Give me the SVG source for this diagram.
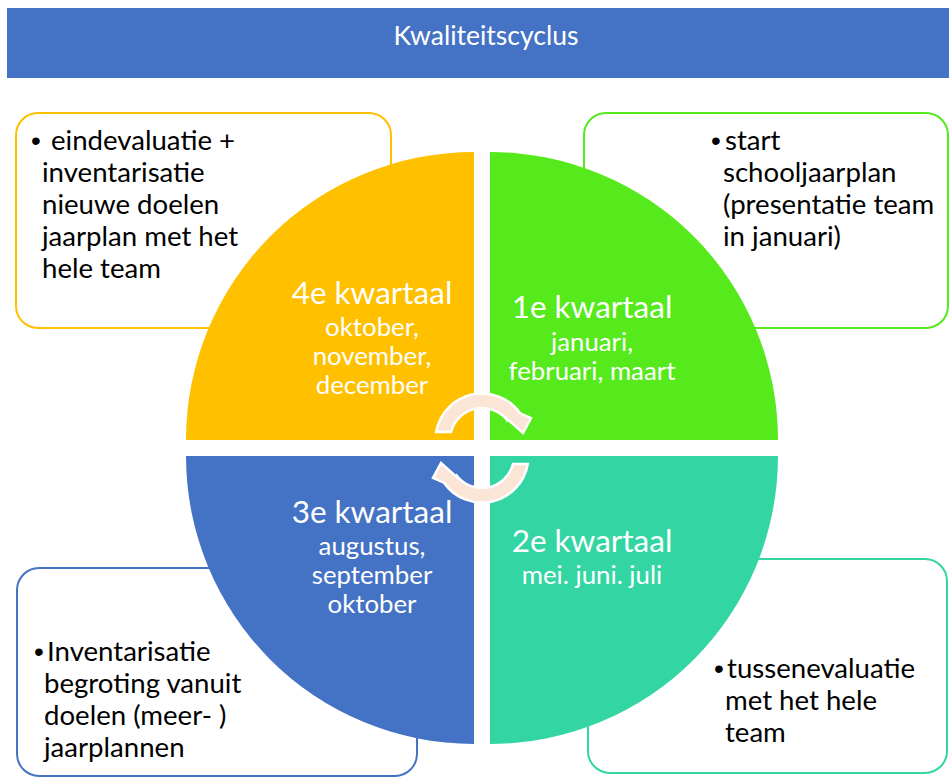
<svg xmlns="http://www.w3.org/2000/svg" width="949" height="779" viewBox="0 0 949 779">
  <style>
    .box { fill: #ffffff; stroke-width: 2; }
    .note { font-family: Lato, "Open Sans", "Liberation Sans", sans-serif; font-size: 27.6px; fill: #000000; }
    .dot { font-family: "Liberation Sans", Arial, sans-serif; font-size: 28px; fill: #000000; }
    .qhead { font-family: Lato, "Open Sans", "Liberation Sans", sans-serif; font-size: 31.5px; fill: #ffffff; text-anchor: middle; }
    .qsub { font-family: Lato, "Open Sans", "Liberation Sans", sans-serif; font-size: 25.8px; fill: #ffffff; text-anchor: middle; }
    .title { font-family: Lato, "Open Sans", "Liberation Sans", sans-serif; font-size: 26.5px; fill: #ffffff; text-anchor: middle; }
    .cycle { fill: #FBE5D6; stroke: #ffffff; stroke-width: 2.5; stroke-linejoin: miter; }
  </style>
  <defs>
    <!-- curved arrow over the top of the centre, pointing clockwise -->
    <path id="curl" d="M436.2,432 A46.5,46.5 0 0 1 520.1,413.3 L531,418 L523,433 L504,416 L508.2,421.6 A32,32 0 0 0 451,432 Z"/>
  </defs>

  <rect width="949" height="779" fill="#ffffff"/>

  <!-- header bar -->
  <g id="header">
    <rect x="7" y="8" width="942" height="70" fill="#4472C4"/>
    <text class="title" x="486" y="45">Kwaliteitscyclus</text>
  </g>

  <!-- note boxes (sit behind the pie) -->
  <g id="note-q4">
    <rect class="box" x="16" y="113" width="375" height="215" rx="22" stroke="#FFC000"/>
    <text class="dot" x="31" y="150">•</text>
    <text class="note">
      <tspan x="51" y="150">eindevaluatie +</tspan>
      <tspan x="42" y="182">inventarisatie</tspan>
      <tspan x="42" y="214">nieuwe doelen</tspan>
      <tspan x="42" y="246">jaarplan met het</tspan>
      <tspan x="42" y="278">hele team</tspan>
    </text>
  </g>
  <g id="note-q1">
    <rect class="box" x="584" y="113" width="364" height="215" rx="22" stroke="#56E91C"/>
    <text class="dot" x="711" y="150">•</text>
    <text class="note">
      <tspan x="725" y="150">start</tspan>
      <tspan x="723" y="182">schooljaarplan</tspan>
      <tspan x="723" y="214">(presentatie team</tspan>
      <tspan x="723" y="246">in januari)</tspan>
    </text>
  </g>
  <g id="note-q3">
    <rect class="box" x="17" y="568" width="400" height="208" rx="22" stroke="#4472C4"/>
    <text class="dot" x="34" y="661">•</text>
    <text class="note">
      <tspan x="47" y="661">Inventarisatie</tspan>
      <tspan x="44" y="693">begroting vanuit</tspan>
      <tspan x="44" y="725">doelen (meer- )</tspan>
      <tspan x="44" y="757">jaarplannen</tspan>
    </text>
  </g>
  <g id="note-q2">
    <rect class="box" x="588" y="559" width="359" height="214" rx="22" stroke="#33D6A3"/>
    <text class="dot" x="714" y="678">•</text>
    <text class="note">
      <tspan x="727" y="678">tussenevaluatie</tspan>
      <tspan x="725" y="710">met het hele</tspan>
      <tspan x="725" y="742">team</tspan>
    </text>
  </g>

  <!-- four quarter segments of the cycle -->
  <g id="quarter-4">
    <path d="M474,440 L186,440 A288,288 0 0 1 474,152 Z" fill="#FFC000"/>
    <text class="qhead" x="372" y="304">4e kwartaal</text>
    <text class="qsub" x="372" y="336">oktober,</text>
    <text class="qsub" x="372" y="365">november,</text>
    <text class="qsub" x="372" y="394">december</text>
  </g>
  <g id="quarter-1">
    <path d="M490,440 L490,152 A288,288 0 0 1 778,440 Z" fill="#56E91C"/>
    <text class="qhead" x="592" y="318">1e kwartaal</text>
    <text class="qsub" x="592" y="351">januari,</text>
    <text class="qsub" x="592" y="380">februari, maart</text>
  </g>
  <g id="quarter-2">
    <path d="M490,456 L778,456 A288,288 0 0 1 490,744 Z" fill="#33D6A3"/>
    <text class="qhead" x="592" y="552">2e kwartaal</text>
    <text class="qsub" x="592" y="584">mei. juni. juli</text>
  </g>
  <g id="quarter-3">
    <path d="M474,456 L474,744 A288,288 0 0 1 186,456 Z" fill="#4472C4"/>
    <text class="qhead" x="372" y="523">3e kwartaal</text>
    <text class="qsub" x="372" y="555">augustus,</text>
    <text class="qsub" x="372" y="584">september</text>
    <text class="qsub" x="372" y="613">oktober</text>
  </g>

  <!-- cycle arrows in the centre -->
  <g id="connectors">
    <use href="#curl" class="cycle"/>
    <use href="#curl" class="cycle" transform="rotate(180 482 448)"/>
  </g>
</svg>
